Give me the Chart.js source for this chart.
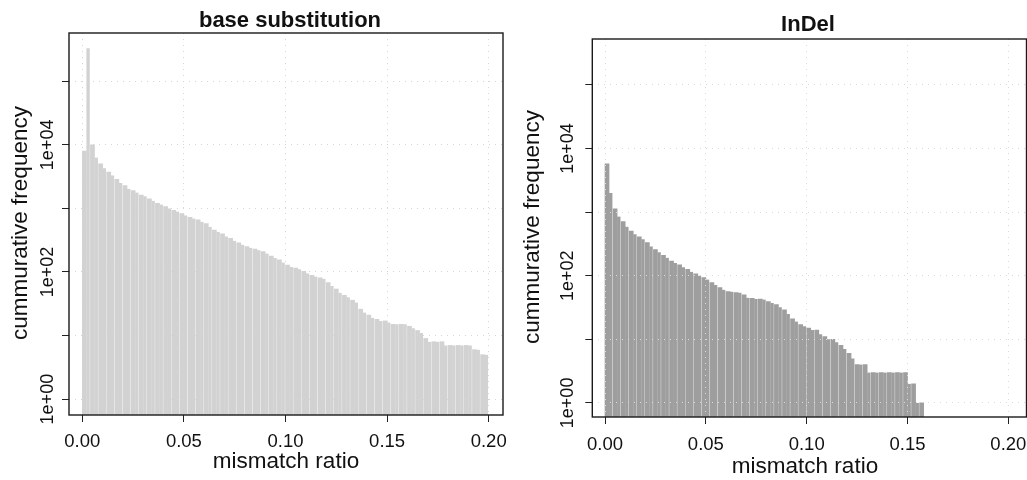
<!DOCTYPE html>
<html>
<head>
<meta charset="utf-8">
<script src="https://cdn.jsdelivr.net/npm/chart.js@4.4.0/dist/chart.umd.min.js"></script>
<style>
  html, body { margin: 0; padding: 0; background: #fff; }
  #wrap { position: relative; width: 1027px; height: 480px; overflow: hidden; }
  .panel { position: absolute; top: 0; }
</style>
</head>
<body>
<div id="wrap">
  <canvas id="subst" class="panel" width="513" height="480" style="left:0"></canvas>
  <canvas id="indel" class="panel" width="514" height="480" style="left:513px"></canvas>
</div>
<script>
// ---------- data ----------
const binWidth = 0.002;               // histogram bin width on mismatch ratio
const xTicks = [0, 0.05, 0.10, 0.15, 0.20];
const yTicks = [1, 10, 100, 1000, 10000, 100000];
const yTickLabels = ['1e+00', '', '1e+02', '', '1e+04', ''];
const xTitle = 'mismatch ratio';
const yTitle = 'cummurative frequency';

// base substitution, one value per 0.002 bin from 0.000 to 0.200
const substCounts = [
  8000, 331000, 10000, 6310, 5010, 4270, 3720, 3310, 2880, 2510,
  2290, 2040, 1910, 1780, 1620, 1550, 1410, 1320, 1200, 1150,
  1070, 1000, 933, 891, 832, 776, 724, 692, 661, 617,
  575, 513, 457, 427, 398, 363, 339, 309, 288, 269,
  251, 240, 229, 219, 209, 195, 178, 166, 155, 141,
  129, 120, 115, 110, 102, 95, 89, 85, 81, 78,
  68, 60, 54, 47, 43, 40, 36, 33, 26, 23,
  21, 19, 18, 17, 17, 16, 15, 15, 15, 15,
  14, 13, 12, 11, 9, 8, 8, 8, 8, 7,
  7, 7, 7, 7, 7, 7, 6, 6, 5, 5
];

// InDel, one value per 0.002 bin from 0.000 to 0.158
const indelCounts = [
  5750, 2000, 1120, 851, 708, 589, 501, 447, 407, 372,
  331, 288, 257, 234, 209, 191, 170, 158, 148, 135,
  126, 115, 107, 100, 93, 87, 78, 71, 65, 60,
  56, 56, 54, 54, 50, 45, 44, 43, 43, 42,
  39, 37, 35, 32, 29, 25, 21, 19, 17, 16,
  15, 14, 14, 12, 11, 10, 10, 9, 8, 7,
  6, 5, 4, 4, 4, 3, 3, 3, 3, 3,
  3, 3, 3, 3, 3, 2, 2, 1, 1
];

// ---------- drawing ----------
const FONT = '"Liberation Sans", Arial, Helvetica, sans-serif';
const INK = '#111';

function toPoints(counts) {
  return counts.map((c, i) => ({ x: i * binWidth + binWidth / 2, y: c }));
}

// R-like frame, titles and rotated tick labels
const rFrame = {
  id: 'rFrame',
  afterDraw(chart, args, o) {
    const ctx = chart.ctx, a = chart.chartArea;
    const xs = chart.scales.x, ys = chart.scales.y;
    ctx.save();
    ctx.strokeStyle = '#1a1a1a';
    ctx.lineWidth = 1.4;
    ctx.strokeRect(a.left, a.top, a.right - a.left, a.bottom - a.top);

    ctx.fillStyle = INK;
    ctx.textAlign = 'center';
    ctx.textBaseline = 'alphabetic';

    ctx.font = 'bold 22px ' + FONT;
    ctx.fillText(o.title, o.titleX, o.titleY);

    ctx.font = '18.5px ' + FONT;
    xTicks.forEach(v => ctx.fillText(v.toFixed(2), xs.getPixelForValue(v), o.xTickY));

    ctx.font = '22.5px ' + FONT;
    ctx.fillText(xTitle, o.xTitleX, o.xTitleY);

    ctx.font = '18px ' + FONT;
    yTicks.forEach((v, i) => {
      if (!yTickLabels[i]) return;
      ctx.save();
      ctx.translate(o.yTickX, ys.getPixelForValue(v));
      ctx.rotate(-Math.PI / 2);
      ctx.fillText(yTickLabels[i], 0, 0);
      ctx.restore();
    });

    ctx.font = '22.5px ' + FONT;
    ctx.save();
    ctx.translate(o.yTitleX, o.yTitleY);
    ctx.rotate(-Math.PI / 2);
    ctx.fillText(yTitle, 0, 0);
    ctx.restore();
    ctx.restore();
  }
};

function makePanel(id, counts, cfg) {
  const gridStyle = { z: 1, color: cfg.gridColor, lineWidth: 1, offset: false,
                      tickLength: 7, tickColor: '#222', tickWidth: 1 };
  return new Chart(document.getElementById(id), {
    type: 'bar',
    data: {
      datasets: [{
        data: toPoints(counts),
        backgroundColor: cfg.barColor,
        borderColor: '#ffffff',
        borderWidth: c => (c.dataIndex % 2 === 1 ? { right: 1 } : 0),
        borderSkipped: 'start',
        barPercentage: 1,
        categoryPercentage: 1
      }]
    },
    options: {
      responsive: false,
      animation: false,
      devicePixelRatio: 1,
      layout: { padding: { left: 0, top: cfg.top, right: cfg.padRight, bottom: 0 } },
      plugins: {
        legend: { display: false },
        tooltip: { enabled: false },
        rFrame: cfg.text
      },
      scales: {
        x: {
          type: 'linear',
          offset: false,
          min: cfg.xMin, max: cfg.xMax,
          afterBuildTicks: s => { s.ticks = xTicks.map(v => ({ value: v })); },
          afterFit: s => { s.height = cfg.xAxisHeight; },
          ticks: { display: false },
          grid: gridStyle,
          border: { display: false, dash: [1, 5] }
        },
        y: {
          type: 'logarithmic',
          min: cfg.yMin, max: cfg.yMax,
          afterBuildTicks: s => { s.ticks = yTicks.map(v => ({ value: v })); },
          afterFit: s => { s.width = cfg.yAxisWidth; },
          ticks: { display: false },
          grid: gridStyle,
          border: { display: false, dash: [1, 5] }
        }
      }
    },
    plugins: [rFrame]
  });
}

makePanel('subst', substCounts, {
  barColor: '#d2d2d2', gridColor: '#d6d6d6',
  top: 33, padRight: 10, xAxisHeight: 65, yAxisWidth: 69,
  xMin: -0.00655, xMax: 0.20704,
  yMin: Math.pow(10, -0.25), yMax: Math.pow(10, 5.76),
  text: { title: 'base substitution', titleX: 290, titleY: 27,
          xTickY: 447, xTitleX: 286, xTitleY: 468,
          yTickX: 53, yTitleX: 27, yTitleY: 223 }
});

makePanel('indel', indelCounts, {
  barColor: '#9e9e9e', gridColor: '#dadada',
  top: 39, padRight: 0.5, xAxisHeight: 63, yAxisWidth: 79.3,
  xMin: -0.0063, xMax: 0.209,
  yMin: Math.pow(10, -0.21), yMax: Math.pow(10, 5.72),
  text: { title: 'InDel', titleX: 295, titleY: 31,
          xTickY: 450, xTitleX: 292, xTitleY: 473,
          yTickX: 60, yTitleX: 26, yTitleY: 227 }
});
</script>
</body>
</html>
